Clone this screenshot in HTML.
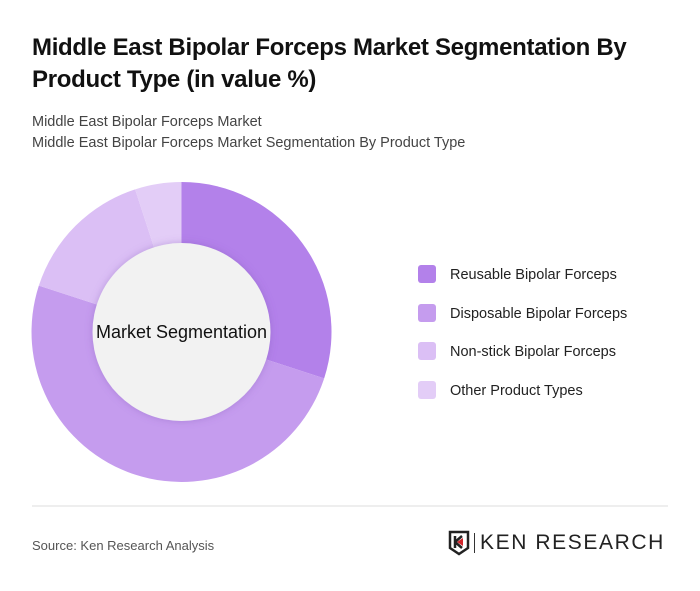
<!DOCTYPE html>
<html><head><meta charset="utf-8"><style>
body{margin:0;background:#fff;font-family:"Liberation Sans",sans-serif;}
#c{position:relative;width:700px;height:591px;overflow:hidden;}
.t{position:absolute;left:32px;top:32px;font-size:24px;font-weight:bold;color:#111;line-height:32px;width:650px;letter-spacing:-0.3px}
.s{position:absolute;left:32px;font-size:14.5px;color:#444;}
.leg{position:absolute;left:418px;font-size:14.5px;color:#222;}
.leg span{display:inline-block;width:18px;height:18px;border-radius:3px;vertical-align:-4px;margin-right:14px}
</style></head><body><div id="c">
<div class="t">Middle East Bipolar Forceps Market Segmentation By Product Type (in value %)</div>
<div class="s" style="top:114px">Middle East Bipolar Forceps Market</div>
<div class="s" style="top:135px">Middle East Bipolar Forceps Market Segmentation By Product Type</div>
<svg id="svg" width="700" height="591" style="position:absolute;left:0;top:0">
<defs><filter id="sh" x="-20%" y="-20%" width="140%" height="140%"><feDropShadow dx="0" dy="0" stdDeviation="4" flood-color="#7a4fb0" flood-opacity="0.35"/></filter></defs>
<g id="slices"></g>
<circle cx="181.5" cy="332" r="89" fill="#f2f2f2" filter="url(#sh)"/>
<text x="181.5" y="338" text-anchor="middle" font-size="18" fill="#111" font-family="Liberation Sans, sans-serif">Market Segmentation</text>
<line x1="32" y1="506" x2="668" y2="506" stroke="#ddd"/>
</svg>
<div id="legend"></div>
<div class="s" style="top:538px;font-size:13px;color:#555">Source: Ken Research Analysis</div>
<div style="position:absolute;left:448px;top:530px;height:26px;display:flex;align-items:center">
<svg width="22" height="26"><path d="M2 2h18v16l-9 6-9-6z" fill="none" stroke="#222" stroke-width="2.5"/><path d="M7 6v12M7 12l7-6M7 12l7 6" stroke="#222" stroke-width="2.5" fill="none"/><path d="M9 12l6-4v8z" fill="#d0252b"/></svg>
<div style="width:1px;height:20px;background:#333;margin:0 5px 0 4px"></div>
<span style="font-size:21px;color:#222;letter-spacing:1.6px;font-family:'Liberation Sans',sans-serif">KEN RESEARCH</span></div>
</div>
<script>
const categories=["Reusable Bipolar Forceps","Disposable Bipolar Forceps","Non-stick Bipolar Forceps","Other Product Types"];
const values=[30,50,15,5];
const colors=["#b381ea","#c59cee","#dbbff5","#e3cdf7"];
const cx=181.5,cy=332,R=150,total=values.reduce((a,b)=>a+b,0);
const g=document.getElementById('slices');
let a0=0;
values.forEach((v,i)=>{
 const a1=a0+v/total*2*Math.PI;
 const x0=cx+R*Math.sin(a0),y0=cy-R*Math.cos(a0),x1=cx+R*Math.sin(a1),y1=cy-R*Math.cos(a1);
 const p=document.createElementNS('http://www.w3.org/2000/svg','path');
 p.setAttribute('d',`M${cx},${cy}L${x0},${y0}A${R},${R} 0 ${a1-a0>Math.PI?1:0} 1 ${x1},${y1}Z`);
 p.setAttribute('fill',colors[i]);
 
 
 g.appendChild(p);a0=a1;
});
const L=document.getElementById('legend');
categories.forEach((c,i)=>{
 const d=document.createElement('div');d.className='leg';d.style.top=(265+i*38.5)+'px';
 d.innerHTML=`<span style="background:${colors[i]}"></span>${c}`;
 
 
 L.appendChild(d);
});
</script></body></html>
